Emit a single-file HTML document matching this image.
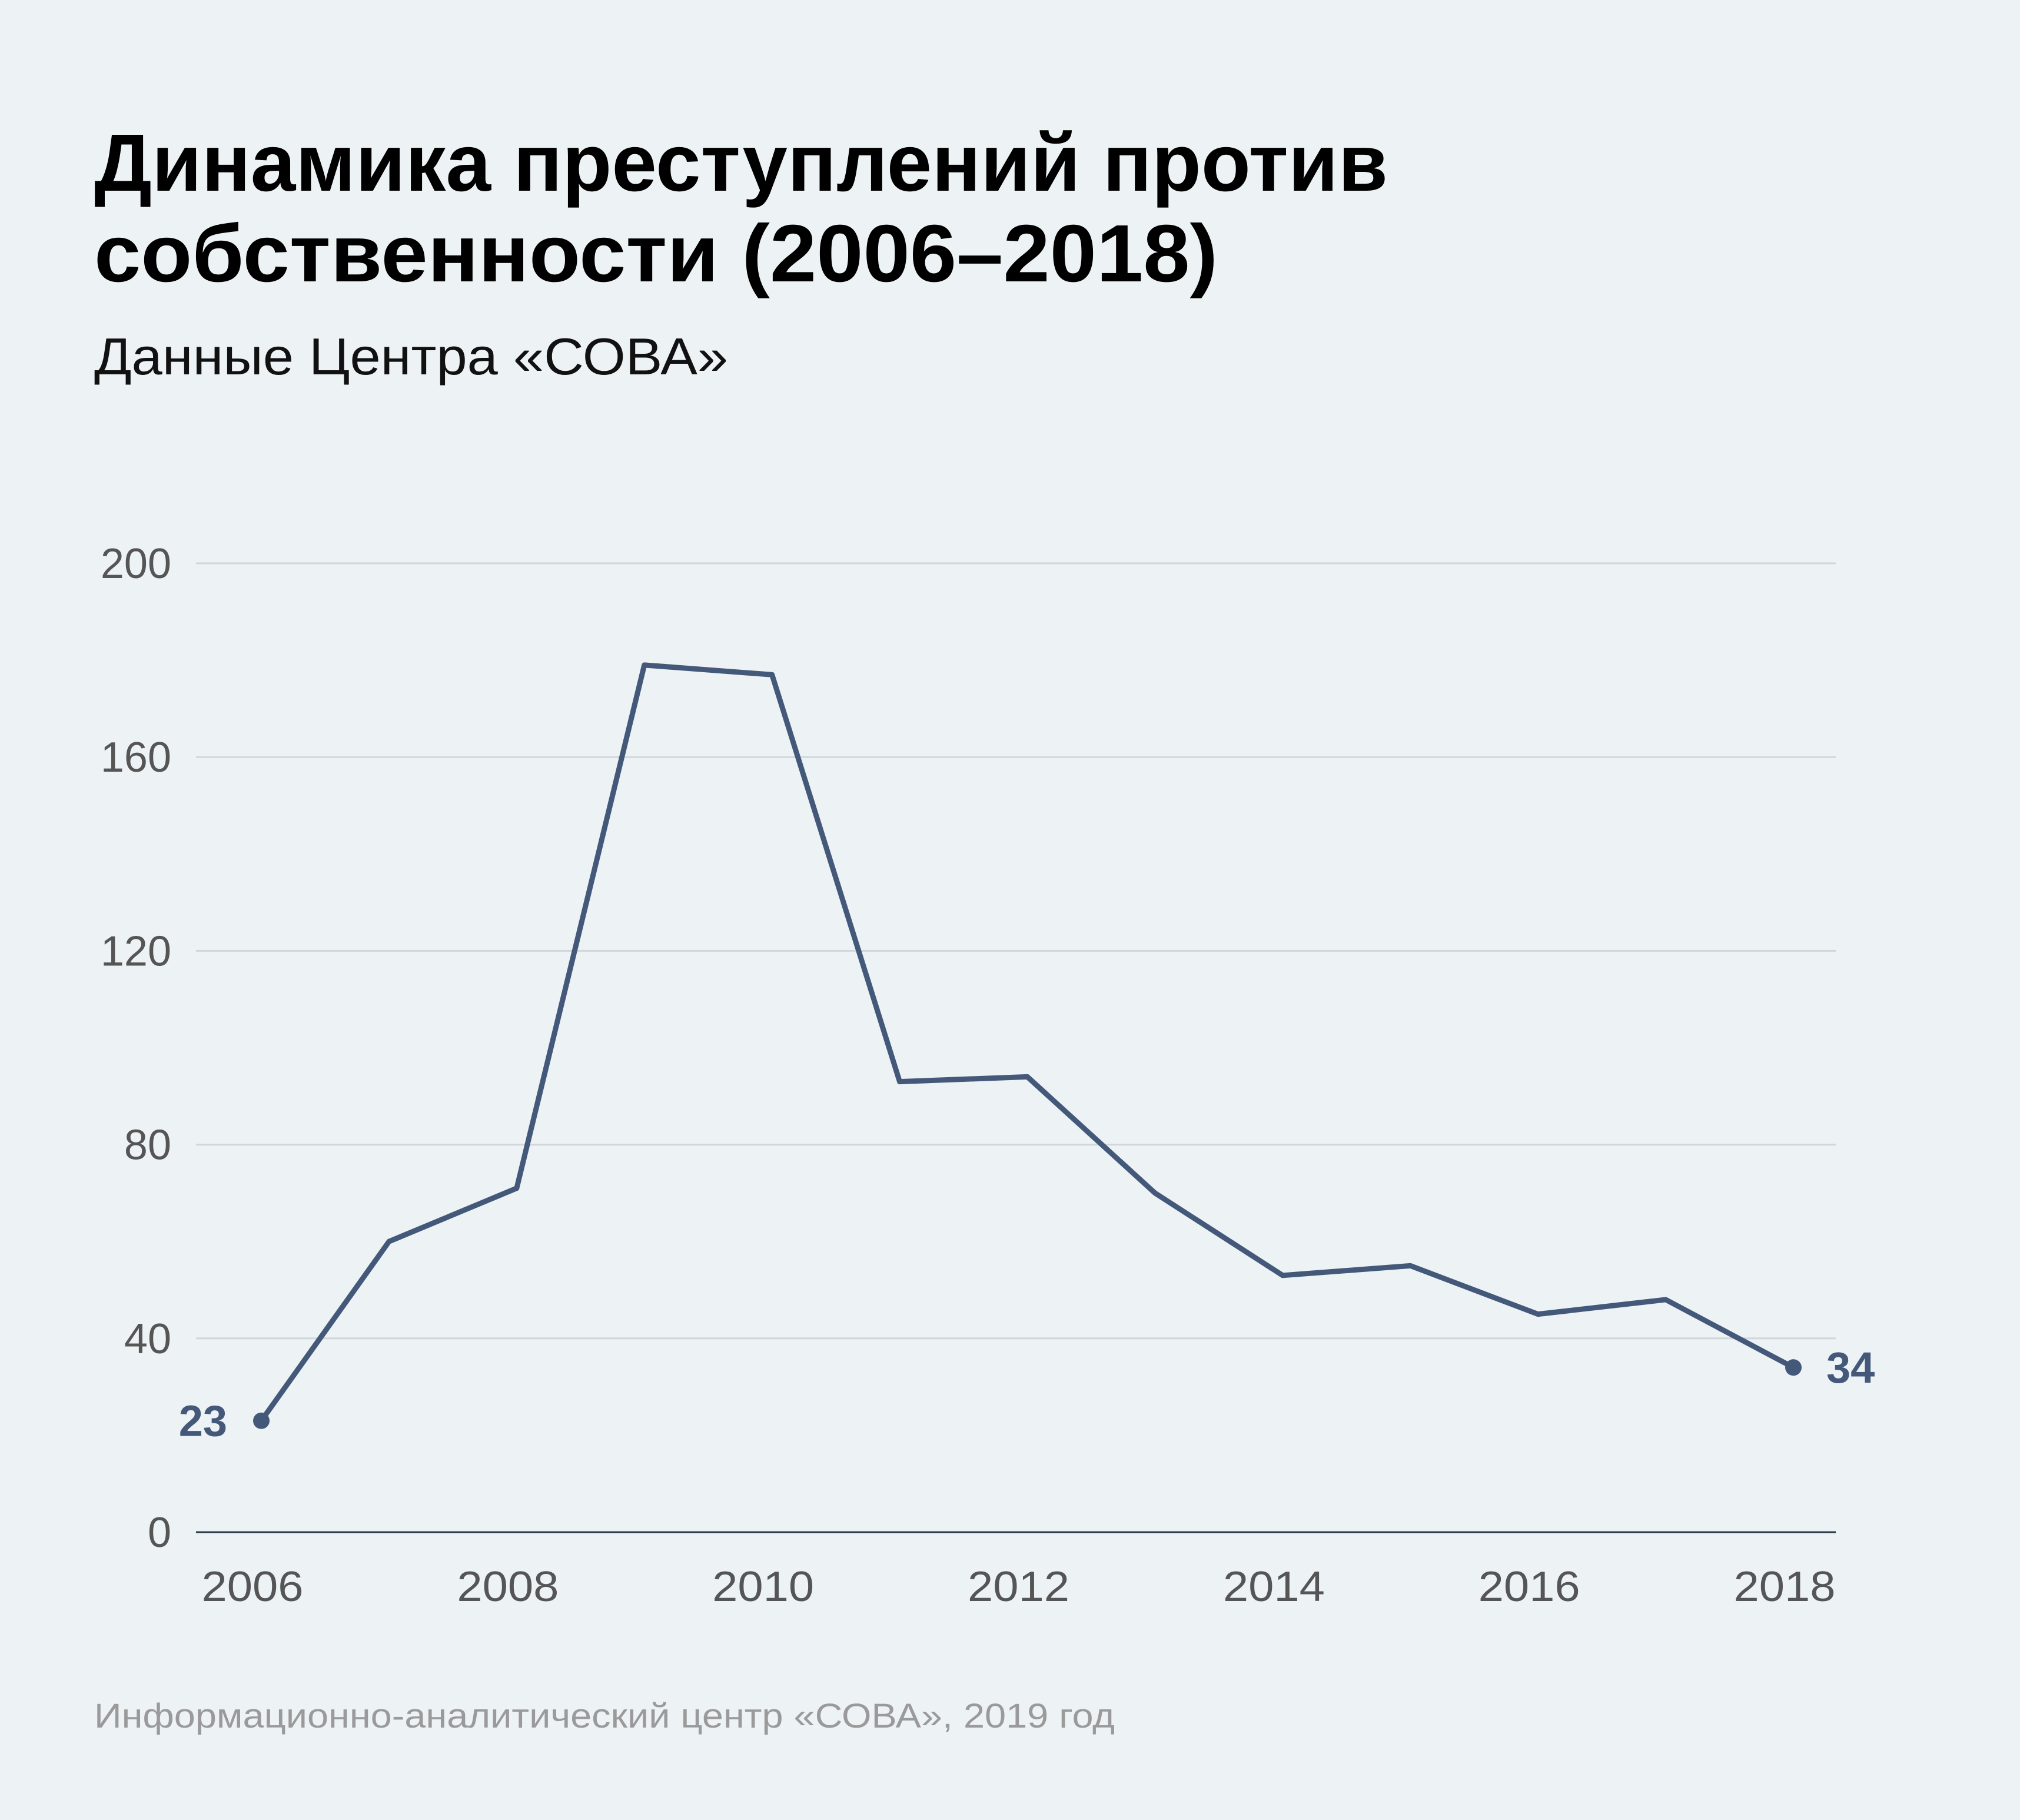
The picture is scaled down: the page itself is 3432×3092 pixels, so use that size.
<!DOCTYPE html>
<html><head><meta charset="utf-8">
<style>
html,body{margin:0;padding:0;background:#edf2f5;}
svg{display:block;font-family:"Liberation Sans","Noto Sans CJK SC",sans-serif;}
</style></head>
<body>
<svg id="chart" width="3432" height="3092" viewBox="0 0 3432 3092">
<rect width="3432" height="3092" fill="#edf2f5"/>
<text x="160" y="324" font-size="138" font-weight="bold" fill="#000" textLength="2198" lengthAdjust="spacingAndGlyphs">Динамика преступлений против</text>
<text x="160" y="478" font-size="138" font-weight="bold" fill="#000" textLength="1909" lengthAdjust="spacingAndGlyphs">собственности (2006–2018)</text>
<text x="160" y="636" font-size="88" fill="#111" textLength="1077" lengthAdjust="spacingAndGlyphs">Данные Центра «СОВА»</text>
<g id="grid"></g>
<g id="xticks"></g>
<g id="series"></g>
<text x="160" y="2935" font-size="58" fill="#9a9a9a" textLength="1734" lengthAdjust="spacingAndGlyphs">Информационно-аналитический центр «СОВА», 2019 год</text>
</svg>
<script>
const years = [2006,2007,2008,2009,2010,2011,2012,2013,2014,2015,2016,2017,2018];
const values = [23,60,71,179,177,93,94,70,53,55,45,48,34];
const yTicks = [0,40,80,120,160,200];
const xTickLabels = [2006,2008,2010,2012,2014,2016,2018];
const NS="http://www.w3.org/2000/svg";
const X0=444,X1=3047,Y0=2603,Y1=957,L=333,R=3119;
const xs=v=>X0+(v-2006)*(X1-X0)/12;
const ys=v=>Y0-v*(Y0-Y1)/200;
function mk(tag,attrs,parent,txt){const e=document.createElementNS(NS,tag);for(const k in attrs)e.setAttribute(k,attrs[k]);if(txt!==undefined)e.textContent=txt;parent.appendChild(e);return e;}
const grid=document.getElementById('grid');
yTicks.forEach(t=>{
  const ln=mk('line',{x1:L,x2:R,y1:ys(t),y2:ys(t),stroke:t===0?'#2c3a4f':'#d0d6dc','stroke-width':3},grid);
  
  
  const tx=mk('text',{x:291,y:ys(t)+25,'text-anchor':'end','font-size':72,fill:'#555'},grid,String(t));
  
  
});
const xt=document.getElementById('xticks');
xTickLabels.forEach(y=>{
  const tx=mk('text',{x:xs(y)-15,y:2720,'text-anchor':'middle','font-size':72,fill:'#555',textLength:173,lengthAdjust:'spacingAndGlyphs'},xt,String(y));
  
  
});
const s=document.getElementById('series');
const pts=years.map((y,i)=>xs(y)+','+ys(values[i])).join(' ');
const pl=mk('polyline',{points:pts,fill:'none',stroke:'#44597a','stroke-width':9,'stroke-linejoin':'round'},s);


[0,years.length-1].forEach(i=>{
  const c=mk('circle',{cx:xs(years[i]),cy:ys(values[i]),r:14,fill:'#44597a'},s);
  
  
  const first=i===0;
  const t=mk('text',{x:first?xs(years[i])-58:xs(years[i])+56,y:ys(values[i])+26,'text-anchor':first?'end':'start','font-size':74,'font-weight':'bold',fill:'#44597a'},s,String(values[i]));
  
  
});
</script>
</body></html>
